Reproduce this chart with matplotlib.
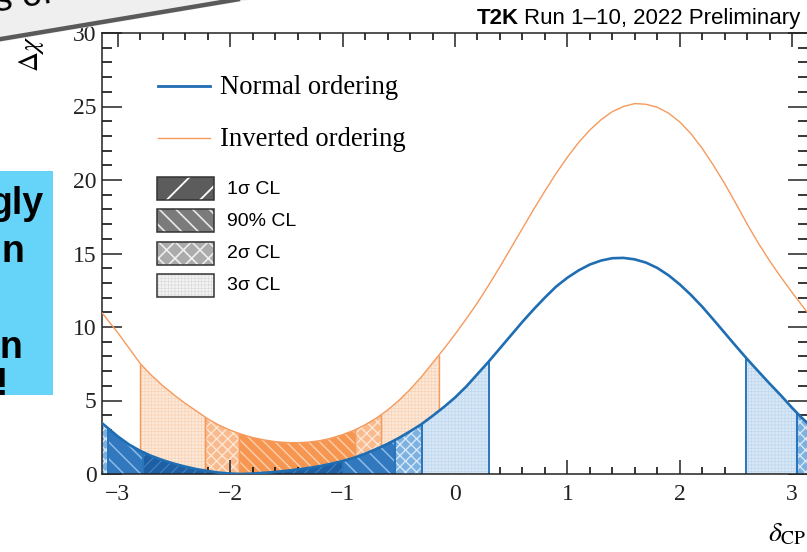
import numpy as np
import matplotlib
matplotlib.use('Agg')
import matplotlib.pyplot as plt
from matplotlib.patches import Polygon, Rectangle
from matplotlib.ticker import MultipleLocator

# ---------------- data ----------------
delta_cp = [-3.14, -3.0, -2.9, -2.8, -2.7, -2.6, -2.5, -2.4, -2.3, -2.2, -2.1,
            -2.0, -1.9, -1.8, -1.7, -1.6, -1.5, -1.4, -1.3, -1.2, -1.1,
            -1.0, -0.9, -0.8, -0.7, -0.6, -0.5, -0.4, -0.3, -0.2, -0.1,
            0.0, 0.1, 0.2, 0.3, 0.4, 0.5, 0.6, 0.7, 0.8, 0.9,
            1.0, 1.1, 1.2, 1.3, 1.4, 1.5, 1.6, 1.7, 1.8, 1.9,
            2.0, 2.1, 2.2, 2.3, 2.4, 2.5, 2.6, 2.7, 2.8, 2.9,
            3.0, 3.1, 3.14]

dchi2_normal = [3.45, 2.55, 2.0, 1.57, 1.22, 0.94, 0.70, 0.50, 0.33, 0.20, 0.09,
                0.03, 0.0, 0.03, 0.08, 0.14, 0.22, 0.31, 0.41, 0.54, 0.70,
                0.88, 1.10, 1.38, 1.70, 2.05, 2.45, 2.90, 3.38, 3.95, 4.55,
                5.20, 5.95, 6.80, 7.65, 8.55, 9.45, 10.35, 11.2, 12.0, 12.75,
                13.35, 13.85, 14.25, 14.52, 14.68, 14.7, 14.6, 14.38, 14.02, 13.52,
                12.9, 12.18, 11.38, 10.5, 9.6, 8.7, 7.82, 6.98, 6.15, 5.35,
                4.5, 3.72, 3.45]

dchi2_inverted = [10.95, 9.6, 8.55, 7.5, 6.7, 6.0, 5.38, 4.8, 4.28, 3.75, 3.32,
                  2.98, 2.70, 2.48, 2.32, 2.20, 2.14, 2.13, 2.17, 2.27, 2.44,
                  2.68, 2.97, 3.35, 3.80, 4.35, 5.0, 5.75, 6.6, 7.55, 8.5,
                  9.5, 10.55, 11.65, 12.85, 14.1, 15.4, 16.7, 18.0, 19.25, 20.45,
                  21.55, 22.55, 23.4, 24.1, 24.65, 25.0, 25.2, 25.15, 24.95, 24.55,
                  23.95, 23.15, 22.15, 21.0, 19.75, 18.4, 17.0, 15.7, 14.5, 13.4,
                  12.35, 11.35, 10.95]

# confidence-level intervals (edges in delta_CP)
normal_cl_lo = [-3.1416, -3.085, -2.78, -1.00, -0.53, -0.29, 2.586, 3.04]
normal_cl_hi = [-3.085, -2.78, -1.00, -0.53, -0.29, 0.305, 3.04, 3.1416]
normal_cl_lvl = ['2s', '90', '1s', '90', '2s', '3s', '3s', '2s']

inverted_cl_lo = [-2.80, -2.224, -1.92, -0.89, -0.66]
inverted_cl_hi = [-2.224, -1.92, -0.89, -0.66, -0.14]
inverted_cl_lvl = ['3s', '2s', '90', '2s', '3s']

legend_lines = ['Normal ordering', 'Inverted ordering']
legend_cl = ['1\u03c3 CL', '90% CL', '2\u03c3 CL', '3\u03c3 CL']
legend_cl_lvl = ['1s', '90', '2s', '3s']
title_bold = 'T2K'
title_rest = 'Run 1\u201310, 2022 Preliminary'
x_ticks = [-3, -2, -1, 0, 1, 2, 3]
y_ticks = [0, 5, 10, 15, 20, 25, 30]

# ---------------- styles ----------------
BLUE = '#1f6db2'
ORANGE = '#f69a5c'
blue_style = {  # face, hatch, hatch colour, hatch lw
    '1s': ('#1d5fa2', '///', '#3f7fc0', 0.9),
    '90': ('#3178bf', '\\\\', '#8dbbe8', 1.1),
    '2s': ('#7db1e0', 'xxx', '#d6e8f8', 1.0),
    '3s': ('#d8e8f7', '+++++', '#bfd7ef', 0.5),
}
orange_style = {
    '90': ('#f79650', '\\\\\\', '#fcd0ae', 1.0),
    '2s': ('#f9bb8d', 'xxx', '#fde6d4', 1.0),
    '3s': ('#fde9da', '+++++', '#f8d2b4', 0.5),
}
legend_style = {
    '1s': ('#5c5c5c', '/', '#ffffff', 1.3),
    '90': ('#7b7b7b', '\\\\', '#e8e8e8', 1.2),
    '2s': ('#ababab', 'xx', '#eeeeee', 1.2),
    '3s': ('#f3f3f3', '+++++', '#dcdcdc', 0.5),
}

W, H = 807, 552
fig = plt.figure(figsize=(W / 100, H / 100), dpi=100)
ax = fig.add_axes([102 / W, 1 - 474 / H, 706 / W, 441 / H])

xs = np.asarray(delta_cp, float)


def make_patch(verts, face, hatch, hc, hlw, z):
    with plt.rc_context({'hatch.linewidth': hlw}):
        p = Polygon(verts, closed=True, facecolor=face, edgecolor=hc, lw=0,
                    hatch=hatch, zorder=z)
    if hasattr(p, 'set_hatch_linewidth'):
        p.set_hatch_linewidth(hlw)
    return p


def draw_region(yvals, lo, hi, style, z, edgecol, edgelw):
    ys = np.asarray(yvals, float)
    m = (xs > lo) & (xs < hi)
    px = np.concatenate([[lo], xs[m], [hi]])
    py = np.interp(px, xs, ys)
    verts = np.column_stack([np.concatenate([[lo], px, [hi]]),
                             np.concatenate([[0], py, [0]])])
    face, hatch, hc, hlw = style
    ax.add_patch(make_patch(verts, face, hatch, hc, hlw, z))
    for e in (lo, hi):
        if -3.14 < e < 3.14:
            ax.plot([e, e], [0, np.interp(e, xs, ys)], color=edgecol, lw=edgelw,
                    zorder=z + 0.1, solid_capstyle='butt')


for lo, hi, lv in zip(inverted_cl_lo, inverted_cl_hi, inverted_cl_lvl):
    draw_region(dchi2_inverted, lo, hi, orange_style[lv], 1, ORANGE, 1.0)
for lo, hi, lv in zip(normal_cl_lo, normal_cl_hi, normal_cl_lvl):
    draw_region(dchi2_normal, lo, hi, blue_style[lv], 2, '#2a76bd', 1.4)

ax.plot(delta_cp, dchi2_inverted, color=ORANGE, lw=1.0, zorder=4)
ax.plot(delta_cp, dchi2_normal, color=BLUE, lw=1.9, zorder=5)

ax.set_xlim(-np.pi, np.pi)
ax.set_ylim(0, 30)
ax.xaxis.set_major_locator(MultipleLocator(1))
ax.xaxis.set_minor_locator(MultipleLocator(0.2))
ax.yaxis.set_major_locator(MultipleLocator(5))
ax.yaxis.set_minor_locator(MultipleLocator(1))
ax.set_xticks(x_ticks)
ax.set_yticks(y_ticks)
ax.set_xticklabels([str(t).replace('-', '\u2212') for t in x_ticks])
ax.set_yticklabels([str(t) for t in y_ticks])
for lab in ax.get_xticklabels() + ax.get_yticklabels():
    lab.set_fontfamily('Liberation Serif')
    lab.set_fontsize(17)
ax.tick_params(axis='x', which='major', direction='in', length=10, width=1.1,
               top=True, bottom=True, pad=7, colors='#222222')
ax.tick_params(axis='x', which='minor', direction='in', length=5, width=1.1,
               top=True, bottom=True)
ax.tick_params(axis='y', which='major', direction='in', length=14.4, width=1.1,
               left=True, right=True, pad=4, colors='#222222')
ax.tick_params(axis='y', which='minor', direction='in', length=7.2, width=1.1,
               left=True, right=True)
for s in ax.spines.values():
    s.set_linewidth(1.1)
    s.set_color('#222222')
ax.set_facecolor('white')

# ---------------- overlay in pixel coordinates ----------------
ov = fig.add_axes([0, 0, 1, 1], zorder=10)
ov.set_xlim(0, W)
ov.set_ylim(H, 0)
ov.axis('off')
ov.patch.set_alpha(0)

# axis labels
ov.text(768, 533, r'$\delta_{\rm CP}$', fontsize=20, ha='left', va='center',
        math_fontfamily='stix')
ov.text(31, 26, r'$\Delta\chi^{2}$', fontsize=20, rotation=90, ha='center', va='top',
        math_fontfamily='stix')

# title
t_rest = ov.text(800, 24, title_rest, fontsize=16, family='Liberation Sans',
                 ha='right', va='baseline')
fig.canvas.draw()
bb = t_rest.get_window_extent()
x0 = bb.x0 - 5
ov.text(x0, 24, title_bold, fontsize=16, family='Liberation Sans', weight='bold',
        ha='right', va='baseline')

# line legend
line_cols = [BLUE, ORANGE]
line_lws = [2.0, 1.0]
line_y = [86, 138]
for lab, c, lw, yy in zip(legend_lines, line_cols, line_lws, line_y):
    ov.plot([158, 210], [yy, yy], color=c, lw=lw)
    ov.text(220, yy + 1, lab, fontsize=19.2, family='Liberation Serif',
            ha='left', va='center')

# CL legend
box_y = [188, 220, 253, 285]
for lab, lv, yy in zip(legend_cl, legend_cl_lvl, box_y):
    face, hatch, hc, hlw = legend_style[lv]
    verts = [(157, yy - 11.5), (214, yy - 11.5), (214, yy + 11.5), (157, yy + 11.5)]
    ov.add_patch(make_patch(verts, face, hatch, hc, hlw, 11))
    ov.add_patch(Rectangle((157, yy - 11.5), 57, 23, facecolor='none',
                           edgecolor='#333333', lw=1.1, zorder=12))
    ov.text(227, yy + 1, lab, fontsize=14, family='Liberation Sans',
            ha='left', va='center')

# slide decorations: grey rotated callout (top-left) and cyan box (left)
ov.add_patch(Polygon([(0, 0), (250, 0), (0, 42)], closed=True,
                     facecolor='#efefef', edgecolor='none', zorder=20))
ov.plot([-5, 240], [40, -1], color='#5a5a5a', lw=3.2, zorder=21,
        solid_capstyle='butt')
ov.text(-4, 12, 's of', fontsize=26, family='Liberation Sans', rotation=9.5,
        rotation_mode='anchor', ha='left', va='baseline', zorder=22)

ov.add_patch(Rectangle((0, 171), 52.5, 224, facecolor='#66d3f8', edgecolor='none',
                       zorder=20))
cyan_txt = ['gly', 'n', 'n', '!']
cyan_right = [44, 24, 22, 8]
cyan_base = [214, 262, 358, 395]
for t, xr, yb in zip(cyan_txt, cyan_right, cyan_base):
    ov.text(xr, yb, t, fontsize=27, family='Liberation Sans', weight='bold',
            ha='right', va='baseline', zorder=22)

fig.savefig('out.png', dpi=100)
